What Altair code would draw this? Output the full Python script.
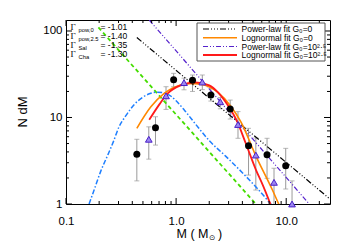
import altair as alt
import pandas as pd

# ---------------- data ----------------
circ_x = [0.44, 0.65, 0.95, 1.41, 2.07, 3.1, 4.55, 6.7, 9.9]
circ_y = [3.75, 7.6, 27.4, 27.0, 18.2, 12.5, 4.7, 3.7, 2.77]
circ_lo = [1.85, 4.8, 22.7, 20.0, 15.5, 9.6, 2.16, 1.98, 1.49]
circ_hi = [5.6, 10.2, 32.4, 31.0, 21.8, 15.9, 7.5, 5.75, 4.4]

tri_x = [0.565, 0.81, 1.18, 1.73, 2.52, 3.65, 5.3, 7.75, 11.3]
tri_y = [5.6, 17.8, 25.3, 25.7, 15.2, 8.3, 3.68, 1.78, 1.0]
tri_lo = [3.3, 12.4, 20.9, 21.0, 12.6, 5.75, 1.45, 0.8, 0.8]
tri_hi = [7.8, 22.7, 28.5, 31.0, 17.0, 11.7, 5.8, 2.59, 1.85]

black_x = [0.44, 25.0]
black_y = [84.0, 1.14]
purple_x = [0.57, 16.2]
purple_y = [134.0, 1.0]
green_x = [0.197, 5.3]
green_y = [110.0, 1.0]
blue_x = [0.162, 0.18, 0.207, 0.24, 0.27, 0.303, 0.35, 0.42, 0.5, 0.58, 0.68,
          0.8, 0.9, 1.0, 1.2, 1.5, 2.0, 2.8, 4.0, 5.5, 7.5]
blue_y = [1.0, 1.45, 2.4, 3.7, 5.3, 7.8, 10.5, 14.3, 17.2, 18.9, 19.6,
          19.0, 17.6, 15.6, 12.0, 8.4, 5.4, 3.6, 2.3, 1.5, 0.95]
orange_x = [0.44, 0.59, 0.78, 1.1, 1.4, 1.8, 2.4, 3.1, 3.9, 5.3, 7.5, 8.7]
orange_y = [7.5, 13.3, 19.0, 23.8, 24.8, 23.8, 19.5, 13.8, 8.8, 3.6, 1.45, 0.95]
red_x = [0.57, 0.7, 0.84, 1.1, 1.5, 2.0, 2.4, 2.93, 3.6, 4.3, 5.3, 6.2, 7.3]
red_y = [9.4, 14.0, 19.0, 23.5, 25.5, 23.5, 19.5, 14.0, 8.9, 5.0, 2.5, 1.6, 0.95]

x_major = [0.1, 1.0, 10.0]
x_minor = [0.2, 0.3, 0.4, 0.5, 0.6, 0.7, 0.8, 0.9, 2, 3, 4, 5, 6, 7, 8, 9, 20]
y_major = [1, 10, 100]
y_minor = [2, 3, 4, 5, 6, 7, 8, 9, 20, 30, 40, 50, 60, 70, 80, 90]

legend_labels = ["Power-law fit G\u2080=0", "Lognormal fit G\u2080=0",
                 "Power-law fit G\u2080=10\u00b2\u00b7\u2075", "Lognormal fit G\u2080=10\u00b2\u00b7\u2075"]
gamma_subs = ["pow,0", "pow,2.5", "Sal", "Cha"]
gamma_vals = ["= -1.01", "= -1.40", "= -1.35", "= -1.30"]

# ---------------- layout ----------------
W, H = 264, 184
FONT = "Liberation Sans"
xs = alt.Scale(type="log", domain=[0.1, 25], nice=False)
ys = alt.Scale(type="log", domain=[1, 134], nice=False)
xaxis = alt.Axis(values=x_major, format=".1f", ticks=False, domain=False, grid=False,
                 labelFont=FONT, labelFontSize=11.5, labelColor="black",
                 labelPadding=11, title=None, labelFlush=False)
yaxis = alt.Axis(values=y_major, format="d", ticks=False, domain=False, grid=False,
                 labelFont=FONT, labelFontSize=11.5, labelColor="black",
                 labelPadding=4, title=None, labelFlush=False)


def X(f="x"):
    return alt.X(f"{f}:Q", scale=xs, axis=xaxis)


def Y(f="y"):
    return alt.Y(f"{f}:Q", scale=ys, axis=yaxis)


one = pd.DataFrame({"a": [0]})
layers = []

# error bars
for ex, elo, ehi in [(circ_x, circ_lo, circ_hi), (tri_x, tri_lo, tri_hi)]:
    d = pd.DataFrame({"x": ex, "lo": elo, "hi": ehi})
    base = alt.Chart(d)
    layers.append(base.mark_rule(color="#9a9a9a", strokeWidth=1, clip=True)
                  .encode(x=X(), y=Y("lo"), y2="hi:Q"))
    for f in ["lo", "hi"]:
        layers.append(base.mark_tick(color="#9a9a9a", orient="horizontal", size=5,
                                     thickness=1, clip=True)
                      .encode(x=X(), y=Y(f)))

# fit lines
def line(xv, yv, color, width, dash=None, interp="linear"):
    kw = dict(color=color, strokeWidth=width, clip=True, interpolate=interp)
    if dash:
        kw["strokeDash"] = dash
    return alt.Chart(pd.DataFrame({"x": xv, "y": yv})).mark_line(**kw).encode(
        x=X(), y=Y(), order=alt.Order("x:Q"))

layers.append(line(green_x, green_y, "#44dd00", 1.8, [4, 3]))
layers.append(line(blue_x, blue_y, "#1e7fff", 1.5, [5, 2, 1.5, 2], "monotone"))
layers.append(line(black_x, black_y, "black", 1.2, [6, 2, 1, 2, 1, 2, 1, 2]))
layers.append(line(purple_x, purple_y, "#5522cc", 1.2, [5, 2, 1, 2, 1, 2]))
layers.append(line(orange_x, orange_y, "#ff8800", 1.6, None, "monotone"))
layers.append(line(red_x, red_y, "#ff1a1a", 1.8, None, "monotone"))

# markers
layers.append(alt.Chart(pd.DataFrame({"x": circ_x, "y": circ_y}))
              .mark_point(shape="circle", filled=True, size=49, color="black", opacity=1)
              .encode(x=X(), y=Y()))
layers.append(alt.Chart(pd.DataFrame({"x": tri_x, "y": tri_y}))
              .mark_point(shape="triangle-up", filled=True, size=45, fill="#9a86f0",
                          stroke="#4a20c8", strokeWidth=1, opacity=1)
              .encode(x=X(), y=Y()))

# inward ticks on all four sides
for vals, L in [(x_major, 6), (x_minor, 3)]:
    base = alt.Chart(pd.DataFrame({"x": vals}))
    layers.append(base.mark_rule(color="black", strokeWidth=1)
                  .encode(x=X(), y=alt.value(H), y2=alt.value(H - L)))
    layers.append(base.mark_rule(color="black", strokeWidth=1)
                  .encode(x=X(), y=alt.value(0), y2=alt.value(L)))
for vals, L in [(y_major, 6), (y_minor, 3)]:
    base = alt.Chart(pd.DataFrame({"y": vals}))
    layers.append(base.mark_rule(color="black", strokeWidth=1)
                  .encode(y=Y(), x=alt.value(0), x2=alt.value(L)))
    layers.append(base.mark_rule(color="black", strokeWidth=1)
                  .encode(y=Y(), x=alt.value(W), x2=alt.value(W - L)))

# legend box
layers.append(alt.Chart(one).mark_rect(fill="white", stroke="#555555", strokeWidth=1)
              .encode(x=alt.value(131), x2=alt.value(259), y=alt.value(3), y2=alt.value(41)))
leg_styles = [("black", 1.2, [6, 2, 1, 2, 1, 2, 1, 2]), ("#ff8800", 1.6, None),
              ("#5522cc", 1.2, [5, 2, 1, 2, 1, 2]), ("#ff1a1a", 1.8, None)]
leg_rows = [9, 17.7, 26.5, 35]
for (col, wdt, dash), yy, lab in zip(leg_styles, leg_rows, legend_labels):
    kw = dict(color=col, strokeWidth=wdt)
    if dash:
        kw["strokeDash"] = dash
    layers.append(alt.Chart(one).mark_rule(**kw)
                  .encode(x=alt.value(137), x2=alt.value(171), y=alt.value(yy)))
    layers.append(alt.Chart(one).mark_text(text=lab, font=FONT, fontSize=8.5, align="left",
                                           baseline="middle", color="black")
                  .encode(x=alt.value(175.5), y=alt.value(yy)))

# Gamma annotations
g_rows = [9.5, 18.7, 27.9, 37.1]
for yy, sub, val in zip(g_rows, gamma_subs, gamma_vals):
    layers.append(alt.Chart(one).mark_text(text="\u0393", font="Liberation Serif", fontSize=9,
                                           align="left", baseline="alphabetic", color="black")
                  .encode(x=alt.value(4.5), y=alt.value(yy)))
    layers.append(alt.Chart(one).mark_text(text=sub, font=FONT, fontSize=5.8,
                                           align="left", baseline="alphabetic", color="black")
                  .encode(x=alt.value(12.5), y=alt.value(yy + 2)))
    layers.append(alt.Chart(one).mark_text(text=val, font=FONT, fontSize=8.5,
                                           align="left", baseline="alphabetic", color="black")
                  .encode(x=alt.value(34.5), y=alt.value(yy)))

# axis titles
layers.append(alt.Chart(one).mark_text(text="N dM", font=FONT, fontSize=13, angle=270,
                                       align="center", baseline="middle", color="black")
              .encode(x=alt.value(-43), y=alt.value(H / 2)))
layers.append(alt.Chart(one).mark_text(text="M ( M", font=FONT, fontSize=12.5, align="right",
                                       baseline="alphabetic", color="black")
              .encode(x=alt.value(142.5), y=alt.value(H + 34)))
layers.append(alt.Chart(one).mark_text(text="\u2299", font="DejaVu Sans", fontSize=7.5,
                                       align="left", baseline="alphabetic", color="black")
              .encode(x=alt.value(143), y=alt.value(H + 36)))
layers.append(alt.Chart(one).mark_text(text=")", font=FONT, fontSize=12.5, align="left",
                                       baseline="alphabetic", color="black")
              .encode(x=alt.value(152), y=alt.value(H + 34)))

chart = alt.layer(*layers).properties(
    width=W, height=H,
    autosize=alt.AutoSizeParams(type="none"),
    padding={"left": 58, "top": 12, "right": 12, "bottom": 38},
    background="white",
).configure_view(stroke="black", strokeWidth=1)

chart.save("out.html", embed_options={"renderer": "svg", "actions": False})
